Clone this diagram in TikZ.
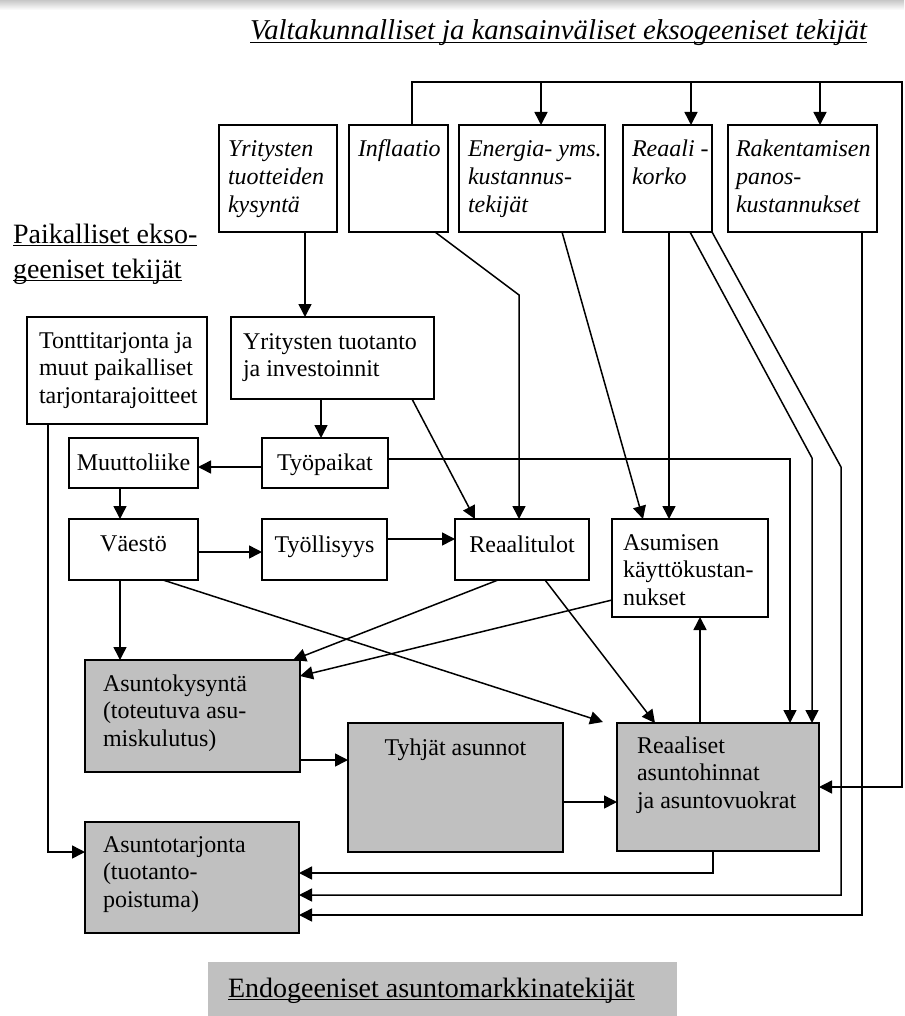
\documentclass[tikz,border=0pt]{standalone}
\usepackage{fontspec}
\setmainfont{Liberation Serif}
\usetikzlibrary{arrows.meta,calc}
\definecolor{boxgray}{RGB}{192,192,192}
\newcommand\ulx[1]{\leavevmode\setbox0\hbox{#1}\rlap{\rule[-1.6pt]{\wd0}{0.6pt}}\box0}
\newcommand\bx[9]{%
  \pgfmathsetmacro\bw{(#4-#2)/2}%
  \pgfmathsetmacro\bh{(#5-#3)/2}%
  \node[#6, anchor=north west, minimum width=\bw pt, minimum height=\bh pt, inner sep=0pt, outer sep=0pt] (#1) at (#2,#3)
   {\parbox[c][\bh pt][t]{\bw pt}{\vspace*{\dimexpr #8pt/2-0.7\baselineskip\relax}#7\strut #9\par}};%
}
\begin{document}
\begin{tikzpicture}[x=0.5pt,y=-0.5pt,
  box/.style={draw, line width=0.85pt, font=\fontsize{12}{13.75}\selectfont},
  ibox/.style={box, font=\fontsize{12}{13.75}\selectfont\itshape},
  gbox/.style={box, fill=boxgray},
  lbl/.style={font=\fontsize{14}{17.5}\selectfont},
  arr/.style={-{Triangle[length=6.5pt,width=6.5pt]}, line width=0.75pt},
]
\useasboundingbox (0,0) rectangle (904,1016);
\shade[top color=black!22, bottom color=white] (0,0) rectangle (904,10);

% labels
\bx{title}{250}{8}{895}{50}{lbl, font=\fontsize{14.35}{17.5}\selectfont\itshape}{\raggedright}{32}{\ulx{Valtakunnalliset ja kansainväliset eksogeeniset tekijät}}
\bx{paik}{13}{210}{215}{295}{lbl}{\raggedright}{33}{\ulx{Paikalliset ekso-}\\\ulx{geeniset tekijät}}
\bx{endo}{208}{962}{677}{1016}{lbl, fill=boxgray}{\raggedright\leftskip=10pt\relax}{35}{\ulx{Endogeeniset asuntomarkkinatekijät}}

% boxes
\bx{yt}{219}{125}{337}{232}{ibox}{\raggedright\leftskip=4.5pt\relax}{32}{Yritysten\\tuotteiden\\kysyntä}
\bx{inf}{349}{125}{448}{232}{ibox}{\raggedright\leftskip=4.5pt\relax}{32}{Inflaatio}
\bx{en}{459}{125}{605}{232}{ibox}{\raggedright\leftskip=4.5pt\relax}{32}{Energia- yms.\\kustannus-\\tekijät}
\bx{rk}{623}{125}{712}{232}{ibox}{\raggedright\leftskip=4.5pt\relax}{32}{Reaali -\\korko}
\bx{rak}{728}{125}{877}{232}{ibox}{\raggedright\leftskip=4pt\relax}{32}{Rakentamisen\\panos-\\kustannukset}
\bx{ytp}{231}{317}{434}{399}{box}{\raggedright\leftskip=6pt\relax}{32}{Yritysten tuotanto\\ja investoinnit}
\bx{tt}{27}{317}{207}{424}{box}{\raggedright\leftskip=6pt\relax}{31}{Tonttitarjonta ja\\muut paikalliset\\tarjontarajoitteet}
\bx{mu}{69}{438}{198}{488}{box}{\centering}{32}{Muuttoliike}
\bx{tp}{262}{438}{388}{488}{box}{\centering}{32}{Työpaikat}
\bx{va}{69}{519}{198}{580}{box}{\centering}{32}{Väestö}
\bx{ty}{262}{519}{387}{580}{box}{\centering}{33}{Työllisyys}
\bx{rt}{455}{519}{589}{580}{box}{\centering}{33}{Reaalitulot}
\bx{as}{612}{519}{768}{617}{box}{\raggedright\leftskip=5.5pt\relax}{31}{Asumisen\\käyttökustan-\\nukset}
\bx{ak}{85}{660}{300}{772}{gbox}{\raggedright\leftskip=9pt\relax}{31}{Asuntokysyntä\\(toteutuva asu-\\miskulutus)}
\bx{tyh}{348}{723}{563}{852}{gbox}{\centering}{32}{Tyhjät asunnot}
\bx{rh}{617}{723}{819}{851}{gbox}{\raggedright\leftskip=10pt\relax}{30}{Reaaliset\\asuntohinnat\\ja asuntovuokrat}
\bx{at}{85}{822}{299}{933}{gbox}{\raggedright\leftskip=9pt\relax}{30}{Asuntotarjonta\\(tuotanto-\\poistuma)}

% bus from national factors
\coordinate (b0) at (412,82);
\coordinate (b1) at (902,82);
\coordinate (b2) at (902,787);
\coordinate (e1) at (541,82);
\coordinate (r1) at (691,82);
\coordinate (k1) at (820,82);
\draw[arr] (inf.north -| b0) -- (b0) -- (b1) -- (b2) -- (rh.east |- b2);
\draw[arr] (e1) -- (en.north -| e1);
\draw[arr] (r1) -- (rk.north -| r1);
\draw[arr] (k1) -- (rak.north -| k1);

% connectors
\coordinate (c305) at (305,0);
\draw[arr] (yt.south -| c305) -- (ytp.north -| c305);
\coordinate (c321) at (321,0);
\draw[arr] (ytp.south -| c321) -- (tp.north -| c321);
\coordinate (h467) at (0,467);
\draw[arr] (tp.west |- h467) -- (mu.east |- h467);
\coordinate (c120) at (120,0);
\draw[arr] (mu.south -| c120) -- (va.north -| c120);
\draw[arr] (va.south -| c120) -- (ak.north -| c120);
\coordinate (h552) at (0,552);
\draw[arr] (va.east |- h552) -- (ty.west |- h552);
\coordinate (h539) at (0,539);
\draw[arr] (ty.east |- h539) -- (rt.west |- h539);
\coordinate (p790) at (790,459);
\draw[arr] (tp.east |- p790) -- (p790) -- (rh.north -| p790);
\coordinate (c412) at (412,0);
\coordinate (c475) at (475,0);
\draw[arr] (ytp.south -| c412) -- (rt.north -| c475);
\coordinate (c435) at (435,0);
\coordinate (p519) at (519,295);
\draw[arr] (inf.south -| c435) -- (p519) -- (rt.north -| p519);
\coordinate (c562) at (562,0);
\coordinate (c643) at (643,0);
\draw[arr] (en.south -| c562) -- (as.north -| c643);
\coordinate (c669) at (669,0);
\draw[arr] (rk.south -| c669) -- (as.north -| c669);
\coordinate (c690) at (690,0);
\coordinate (p812) at (812,458);
\draw[arr] (rk.south -| c690) -- (p812) -- (rh.north -| p812);
\coordinate (p841a) at (841,467);
\coordinate (p841b) at (841,895);
\draw[arr] (rk.south east) -- (p841a) -- (p841b) -- (at.east |- p841b);
\coordinate (p862) at (862,915);
\draw[arr] (rak.south -| p862) -- (p862) -- (at.east |- p862);
\coordinate (p713) at (713,873);
\draw[arr] (rh.south -| p713) -- (p713) -- (at.east |- p713);
\coordinate (p48) at (48,852);
\draw[arr] (tt.south -| p48) -- (p48) -- (at.west |- p48);
\coordinate (c163) at (163,0);
\coordinate (f603) at (603,722);
\draw[arr] (va.south -| c163) -- (f603);
\coordinate (c498) at (498,0);
\coordinate (c293) at (293,0);
\draw[arr] (rt.south -| c498) -- (ak.north -| c293);
\coordinate (h600) at (0,600);
\coordinate (h676) at (0,676);
\draw[arr] (as.west |- h600) -- (ak.east |- h676);
\coordinate (c545) at (545,0);
\coordinate (c655) at (655,0);
\draw[arr] (rt.south -| c545) -- (rh.north -| c655);
\coordinate (h760) at (0,760);
\draw[arr] (ak.east |- h760) -- (tyh.west |- h760);
\coordinate (h802) at (0,802);
\draw[arr] (tyh.east |- h802) -- (rh.west |- h802);
\coordinate (c700) at (700,0);
\draw[arr] (rh.north -| c700) -- (as.south -| c700);
\end{tikzpicture}
\end{document}
